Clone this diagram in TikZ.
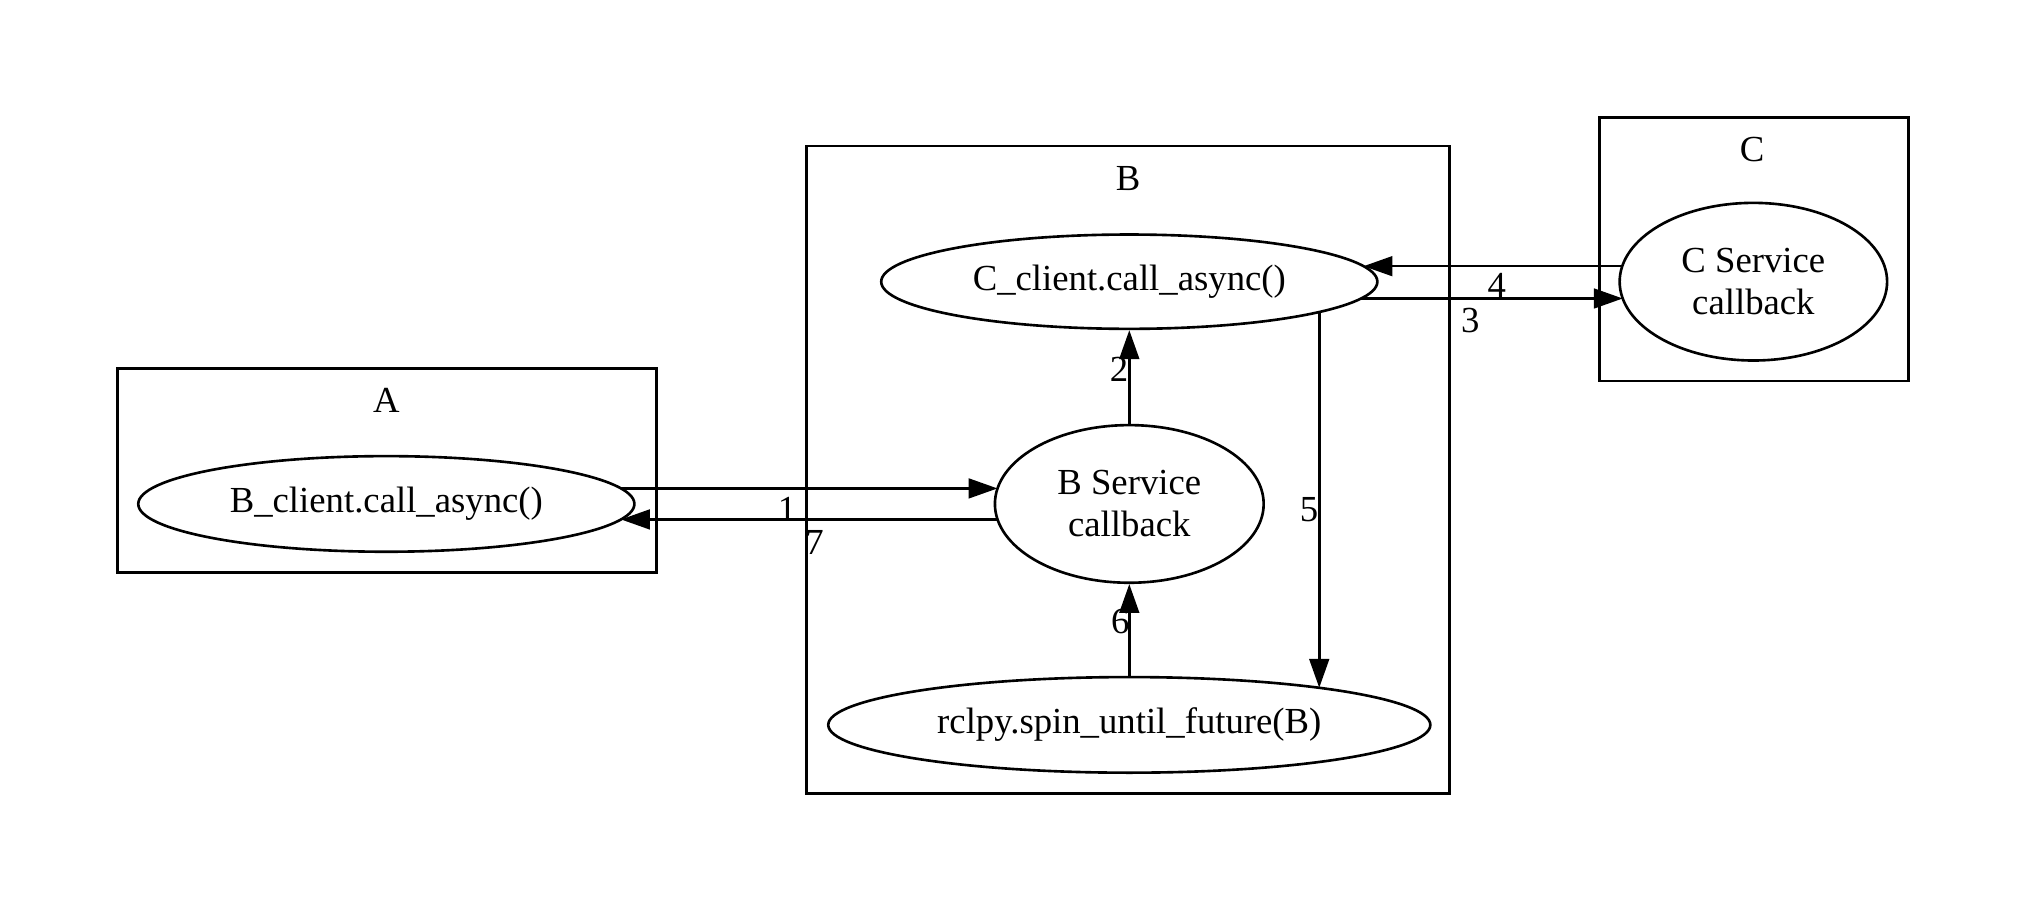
\documentclass[tikz,border=0pt]{standalone}
\usepackage{fontspec}
\setmainfont{Liberation Serif}
\usetikzlibrary{shapes.geometric,arrows.meta,calc}
\begin{document}
\begin{tikzpicture}[x=0.4926pt,y=-0.4926pt,
  every node/.style={font=\fontsize{14pt}{16pt}\selectfont},
  ell/.style={draw,ellipse,line width=1pt,inner sep=0pt,align=center},
  cluster/.style={draw,line width=1pt},
  arr/.style={line width=1pt,-{Triangle[length=11pt,width=7.5pt]}},
  lbl/.style={inner sep=0pt}]
\useasboundingbox (0,0) rectangle (1568,706);
% clusters
\draw[cluster] (91,285) rectangle (508,443);
\node (labA) at (299,310) {A};
\draw[cluster] (624,113) rectangle (1122,614);
\node (labB) at (873,138) {B};
\draw[cluster] (1238,91) rectangle (1477,295);
\node (labC) at (1356,116) {C};
% nodes
\node[ell,minimum width=384*0.4926pt,minimum height=74*0.4926pt] (bcl) at (299,390) {B\_client.call\_async()};
\node[ell,minimum width=384*0.4926pt,minimum height=73*0.4926pt] (ccl) at (874,218) {C\_client.call\_async()};
\node[ell,minimum width=208*0.4926pt,minimum height=122*0.4926pt] (bsc) at (874,390) {B Service\\callback};
\node[ell,minimum width=466*0.4926pt,minimum height=74*0.4926pt] (spin) at (874,561) {rclpy.spin\_until\_future(B)};
\node[ell,minimum width=207*0.4926pt,minimum height=122*0.4926pt] (csc) at (1357,218) {C Service\\callback};
% edges
\draw[arr] ($(bcl.center)+(181.6,-12)$) -- ($(bsc.center)+(-102,-12)$) node[lbl,pos=0.441,yshift=-7.9pt] {1};
\draw[arr] ($(bsc.center)+(-102,12)$) -- ($(bcl.center)+(181.6,12)$) node[lbl,pos=0.486,yshift=-8.9pt] {7};
\draw[arr] (bsc.north) -- (ccl.south) node[lbl,pos=0.58,xshift=-3.9pt] {2};
\draw[arr] (spin.north) -- (bsc.south) node[lbl,pos=0.59,xshift=-3.4pt] {6};
\draw[arr] ($(ccl.center)+(179.4,13)$) -- ($(csc.center)+(-101.1,13)$) node[lbl,pos=0.417,yshift=-8.4pt] {3};
\draw[arr] ($(csc.center)+(-101.5,-12)$) -- ($(ccl.center)+(181.3,-12)$) node[lbl,pos=0.485,yshift=-7.4pt] {4};
\draw[arr] ($(ccl.center)+(147,23.5)$) -- ($(spin.center)+(147,-28.7)$) node[lbl,pos=0.526,xshift=-3.9pt] {5};
\end{tikzpicture}
\end{document}
